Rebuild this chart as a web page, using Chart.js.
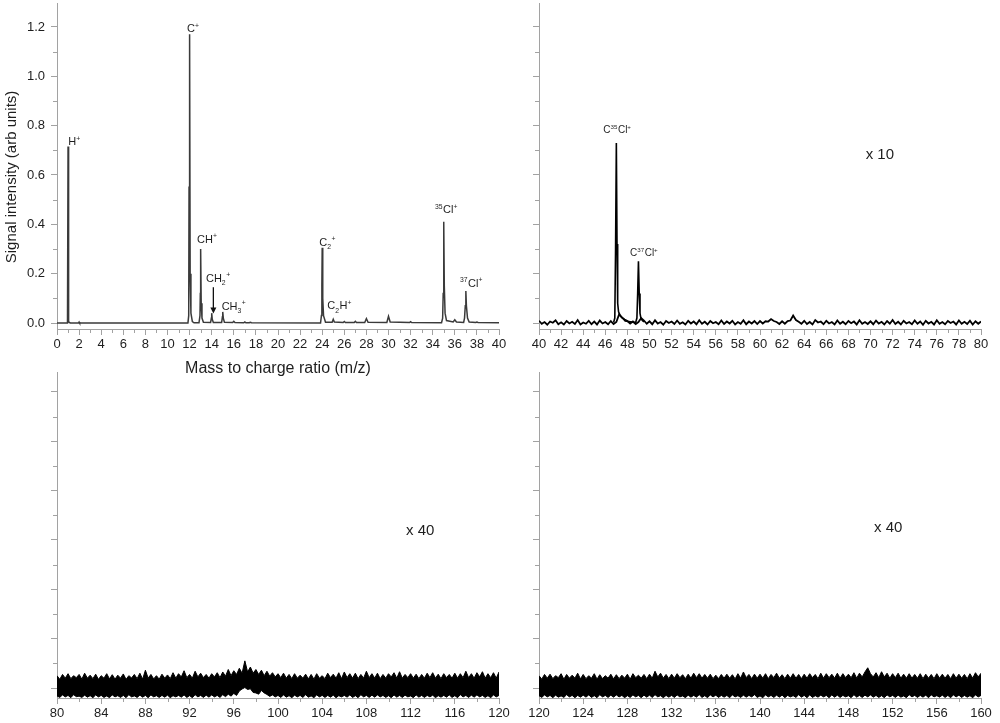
<!DOCTYPE html>
<html><head><meta charset="utf-8">
<script src="https://cdn.jsdelivr.net/npm/chart.js@4.4.0/dist/chart.umd.min.js"></script>
<style>
html,body{margin:0;padding:0;background:#fff;}
#wrap{position:relative;width:1000px;height:723px;overflow:hidden;background:#fff;}
canvas{position:absolute;}
</style></head><body>
<div id="wrap">
<canvas id="tl" width="520" height="385" style="left:0;top:0"></canvas>
<canvas id="tr" width="480" height="360" style="left:520px;top:0"></canvas>
<canvas id="bl" width="520" height="363" style="left:0;top:360px"></canvas>
<canvas id="br" width="480" height="363" style="left:520px;top:360px"></canvas>
</div>
<script>
// ---------- tick labels ----------
const Y_TICKS = [0, 0.2, 0.4, 0.6, 0.8, 1.0, 1.2];
const TL_X_TICKS = [0,2,4,6,8,10,12,14,16,18,20,22,24,26,28,30,32,34,36,38,40];
const TR_X_TICKS = [40,42,44,46,48,50,52,54,56,58,60,62,64,66,68,70,72,74,76,78,80];
const BL_X_TICKS = [80,84,88,92,96,100,104,108,112,116,120];
const BR_X_TICKS = [120,124,128,132,136,140,144,148,152,156,160];

const X_TITLE = 'Mass to charge ratio (m/z)';
const Y_TITLE = 'Signal intensity (arb units)';

// ---------- panel 1: m/z 0-40 ----------
const tlMz = [0,0.95,1.0,1.03,1.07,1.2, 1.95,2.0,2.05,
  11.85,11.92,11.95,12.0,12.05,12.12,12.25,12.4,
  12.85,12.94,12.97,13.0,13.05,13.12,13.25,
  13.9,13.97,14.0,14.05,14.15, 14.9,14.97,15.0,15.05,15.15,
  15.9,16.0,16.1, 16.9,17.0,17.1, 17.4,17.5,17.6,
  23.85,23.93,23.97,24.0,24.05,24.12,24.3, 24.9,25.0,25.1, 25.9,26.0,26.1,
  26.9,27.0,27.1, 27.85,28.0,28.15, 29.85,30.0,30.15, 31.9,32.0,32.1,
  34.8,34.9,34.95,35.0,35.05,35.12,35.25, 35.85,36.0,36.15,
  36.8,36.88,36.95,37.0,37.05,37.15,37.3, 37.9,38.0,38.1, 40];
const tlIntensity = [0,0,0.715,0.072,0.004,0, 0,0.004,0,
  0,0.03,0.55,1.17,0.2,0.04,0.006,0.001,
  0.001,0.03,0.12,0.3,0.08,0.02,0.003,
  0.002,0.02,0.04,0.015,0.002, 0.002,0.025,0.045,0.02,0.003,
  0.002,0.007,0.002, 0.001,0.004,0.001, 0.001,0.003,0.001,
  0.0,0.03,0.15,0.305,0.1,0.03,0.003, 0.003,0.015,0.004, 0.002,0.006,0.002,
  0.002,0.007,0.002, 0.002,0.018,0.003, 0.002,0.027,0.004, 0.002,0.005,0.002,
  0.001,0.02,0.12,0.41,0.15,0.04,0.01, 0.004,0.013,0.004,
  0.002,0.02,0.07,0.13,0.07,0.02,0.004, 0.002,0.004,0.002, 0.001];

// ---------- panel 2: m/z 40-80 (x 10) ----------
const TR_START = 40, TR_STEP = 0.25;
const trNoise = [
  0.009,-0.003,0.004,-0.007,0.006,0.001,0.011,-0.005,0.003,-0.006,0.008,-0.002,0.005,-0.004,0.012,-0.006,0.002,-0.003,0.009,-0.005,
  0.006,-0.006,0.01,-0.002,0.004,-0.005,0.008,-0.004,0.004,0.035,0.022,0.014,0.008,-0.002,0.006,-0.004,0.004,0.02,0.01,-0.003,
  0.007,-0.005,0.011,-0.002,0.004,-0.007,0.008,0.0,0.006,-0.004,0.01,-0.003,0.003,-0.006,0.009,-0.002,0.006,-0.005,0.011,-0.003,
  0.005,-0.006,0.008,-0.001,0.004,-0.005,0.01,-0.004,0.006,-0.002,0.009,-0.006,0.004,-0.003,0.011,-0.005,0.006,-0.002,0.008,-0.004,
  0.008,-0.002,0.007,0.006,0.016,0.008,0.004,-0.004,0.007,-0.003,0.008,0.01,0.03,0.012,0.005,-0.003,0.009,-0.004,0.004,-0.006,
  0.012,0.002,0.006,-0.005,0.009,-0.002,0.004,-0.006,0.01,-0.003,0.005,-0.005,0.008,-0.001,0.006,-0.006,0.011,-0.003,0.004,-0.004,
  0.007,-0.005,0.01,-0.002,0.005,-0.006,0.008,-0.003,0.012,-0.004,0.005,-0.006,0.009,-0.002,0.004,-0.005,0.01,-0.003,0.006,-0.007,
  0.009,-0.002,0.005,-0.006,0.011,-0.003,0.004,-0.005,0.008,0.0,0.006,-0.006,0.01,-0.003,0.005,-0.004,0.009,-0.006,0.007,-0.003,
  0.006];
const trPeakMz = [46.75,46.86,46.93,47.0,47.06,47.12,47.2,47.3,47.45,47.6,47.8, 48.75,48.86,48.93,49.0,49.07,49.14,49.22,49.35,49.5];
const trPeakIntensity = [0.002,0.02,0.3,0.73,0.32,0.08,0.045,0.035,0.025,0.018,0.008, 0.002,0.02,0.12,0.25,0.12,0.04,0.02,0.01,0.004];

// ---------- panel 3: m/z 80-120 (x 40), noise envelope ----------
const BL_START = 80, BL_STEP = 0.25;
const blHigh = [
  .05,.035,.055,.04, .058,.038,.05,.042, .055,.036,.06,.04, .052,.038,.056,.035, .05,.04,.058,.037,
  .054,.036,.052,.04, .057,.035,.05,.041, .055,.038,.06,.036, .072,.04,.055,.037, .05,.036,.056,.04,
  .053,.038,.062,.04, .058,.045,.07,.042, .055,.04,.068,.045, .06,.042,.055,.04, .058,.045,.062,.042,
  .065,.048,.075,.05, .07,.055,.08,.06, .11,.065,.085,.06, .075,.055,.072,.05, .068,.048,.062,.045,
  .058,.042,.06,.04, .055,.038,.058,.04, .052,.04,.056,.037, .055,.036,.058,.04, .05,.038,.06,.042,
  .056,.04,.062,.038, .065,.042,.058,.04, .06,.038,.055,.04, .068,.042,.058,.04, .06,.038,.055,.04,
  .058,.045,.062,.04, .066,.04,.055,.042, .058,.04,.056,.038, .055,.04,.06,.042, .062,.04,.056,.038,
  .058,.042,.055,.04, .06,.04,.058,.042, .068,.042,.058,.04, .062,.045,.066,.04, .058,.042,.062,.04,
  .065];
const blLow = [
  -.032,-.038,-.028,-.036, -.03,-.039,-.027,-.035, -.033,-.038,-.029,-.037, -.031,-.039,-.028,-.036, -.03,-.038,-.032,-.039,
  -.028,-.036,-.031,-.038, -.03,-.039,-.027,-.036, -.032,-.038,-.029,-.037, -.03,-.039,-.028,-.036, -.031,-.038,-.03,-.037,
  -.029,-.039,-.031,-.036, -.03,-.037,-.028,-.038, -.031,-.039,-.027,-.036, -.03,-.038,-.029,-.037, -.028,-.036,-.03,-.038,
  -.027,-.035,-.025,-.033, -.022,-.03,-.012,-.004, .002,-.006,-.003,-.018, -.02,-.025,-.01,-.02, -.026,-.034,-.028,-.036,
  -.03,-.038,-.028,-.037, -.031,-.039,-.029,-.036, -.03,-.038,-.027,-.037, -.032,-.039,-.028,-.036, -.03,-.038,-.03,-.037,
  -.029,-.039,-.031,-.036, -.03,-.037,-.028,-.038, -.031,-.039,-.027,-.036, -.03,-.038,-.029,-.037, -.028,-.036,-.03,-.038,
  -.031,-.039,-.028,-.037, -.03,-.038,-.029,-.036, -.032,-.039,-.028,-.037, -.03,-.038,-.03,-.036, -.029,-.039,-.031,-.037,
  -.03,-.037,-.028,-.038, -.031,-.039,-.027,-.036, -.03,-.038,-.029,-.037, -.028,-.036,-.03,-.038, -.031,-.039,-.028,-.036,
  -.03];

// ---------- panel 4: m/z 120-160 (x 40), noise envelope ----------
const BR_START = 120, BR_STEP = 0.25;
const brHigh = [
  .05,.036,.055,.04, .056,.038,.05,.042, .058,.036,.055,.04, .052,.04,.06,.037, .055,.038,.05,.04,
  .058,.036,.054,.038, .05,.04,.056,.037, .054,.038,.052,.04, .056,.036,.058,.042, .052,.04,.055,.038,
  .056,.04,.068,.045, .06,.04,.055,.038, .056,.04,.058,.042, .054,.038,.056,.04, .06,.042,.058,.04,
  .055,.04,.056,.038, .052,.038,.055,.04, .056,.04,.054,.037, .058,.04,.065,.042, .055,.038,.056,.04,
  .056,.04,.058,.038, .055,.042,.06,.04, .054,.038,.056,.04, .058,.04,.055,.038, .056,.04,.058,.042,
  .055,.038,.06,.04, .058,.042,.056,.04, .06,.04,.058,.042, .056,.042,.062,.04, .06,.045,.065,.082,
  .058,.045,.062,.042, .066,.045,.06,.04, .058,.042,.06,.04, .056,.04,.058,.04, .055,.04,.058,.038,
  .056,.04,.055,.038, .058,.04,.056,.04, .055,.038,.058,.04, .056,.04,.055,.038, .058,.04,.062,.045,
  .06];
const brLow = [
  -.031,-.038,-.028,-.036, -.03,-.039,-.029,-.037, -.032,-.038,-.027,-.036, -.03,-.039,-.03,-.037, -.029,-.037,-.028,-.038,
  -.031,-.039,-.027,-.036, -.03,-.038,-.029,-.037, -.028,-.036,-.03,-.039, -.031,-.038,-.028,-.036, -.03,-.039,-.029,-.037,
  -.029,-.038,-.027,-.036, -.031,-.039,-.03,-.037, -.03,-.038,-.028,-.036, -.032,-.039,-.029,-.037, -.03,-.037,-.027,-.038,
  -.031,-.039,-.028,-.036, -.029,-.038,-.03,-.037, -.03,-.039,-.028,-.036, -.031,-.038,-.029,-.037, -.03,-.036,-.027,-.038,
  -.032,-.039,-.028,-.036, -.03,-.038,-.029,-.037, -.029,-.039,-.03,-.036, -.031,-.038,-.027,-.037, -.03,-.039,-.028,-.038,
  -.031,-.037,-.029,-.036, -.03,-.039,-.028,-.037, -.029,-.038,-.03,-.036, -.031,-.039,-.027,-.037, -.03,-.038,-.029,-.036,
  -.028,-.037,-.03,-.038, -.031,-.039,-.028,-.036, -.03,-.038,-.029,-.037, -.032,-.039,-.027,-.036, -.03,-.038,-.03,-.037,
  -.029,-.039,-.028,-.036, -.031,-.037,-.029,-.038, -.03,-.039,-.028,-.036, -.029,-.038,-.03,-.037, -.031,-.039,-.028,-.036,
  -.03];

// ---------- rendering ----------
const FONT = '"Liberation Sans", Arial, Helvetica, sans-serif';
const AXIS = '#a2a2a2';
const TEXT = '#1e1e1e';

function pts(xs, ys) { return xs.map((x, i) => ({x: x, y: ys[i]})); }
function grid(start, step, ys) { return ys.map((y, i) => ({x: start + i * step, y: y})); }
function mids(a) { return a.slice(1).map((v, i) => (v + a[i]) / 2); }

function drawRich(ctx, x, y, parts, size) {
  let cx = x;
  ctx.textAlign = 'left';
  ctx.textBaseline = 'alphabetic';
  for (const [t, k] of parts) {
    const fs = k === 'n' ? size : size * 0.62;
    ctx.font = fs + 'px ' + FONT;
    const dy = k === 'sup' ? -size * 0.42 : (k === 'sub' ? size * 0.28 : 0);
    ctx.fillText(t, cx, y + dy);
    cx += ctx.measureText(t).width + (k === 'n' ? 0 : 0.5);
  }
}

function panelPlugin(cfg) {
  return {
    id: 'panelDeco',
    afterDraw(chart) {
      const {ctx} = chart;
      const x = chart.scales.x, y = chart.scales.y;
      ctx.save();
      ctx.strokeStyle = AXIS; ctx.lineWidth = 1;
      for (const v of cfg.xMinor) {
        const px = Math.round(x.getPixelForValue(v)) + 0.5;
        ctx.beginPath(); ctx.moveTo(px, x.top); ctx.lineTo(px, x.top + 4); ctx.stroke();
      }
      for (const v of cfg.yMinor) {
        const py = Math.round(y.getPixelForValue(v)) + 0.5;
        ctx.beginPath(); ctx.moveTo(y.right, py); ctx.lineTo(y.right - 4, py); ctx.stroke();
      }
      ctx.fillStyle = TEXT;
      for (const l of cfg.labels) {
        drawRich(ctx, x.getPixelForValue(l.x), y.getPixelForValue(l.y), l.parts, l.size);
      }
      ctx.strokeStyle = '#111'; ctx.fillStyle = '#111'; ctx.lineWidth = 1.3;
      for (const a of (cfg.arrows || [])) {
        const px = x.getPixelForValue(a.x);
        const p0 = y.getPixelForValue(a.from), p1 = y.getPixelForValue(a.to);
        ctx.beginPath(); ctx.moveTo(px, p0); ctx.lineTo(px, p1 - 4); ctx.stroke();
        ctx.beginPath(); ctx.moveTo(px - 3, p1 - 6); ctx.lineTo(px + 3, p1 - 6); ctx.lineTo(px, p1); ctx.closePath(); ctx.fill();
      }
      if (cfg.yTitle) {
        ctx.fillStyle = TEXT;
        ctx.font = '15px ' + FONT;
        ctx.textAlign = 'center'; ctx.textBaseline = 'middle';
        ctx.translate(y.left + 12, y.getPixelForValue(cfg.yTitle.at));
        ctx.rotate(-Math.PI / 2);
        ctx.fillText(cfg.yTitle.text, 0, 0);
      }
      ctx.restore();
    }
  };
}

function makePanel(id, cfg) {
  const zero = s => { s.paddingTop = 0; s.paddingBottom = 0; s.paddingLeft = 0; s.paddingRight = 0; };
  new Chart(document.getElementById(id), {
    type: 'line',
    data: {datasets: cfg.datasets},
    plugins: [panelPlugin(cfg)],
    options: {
      responsive: false, animation: false, devicePixelRatio: 1,
      layout: {padding: {left: 0, right: cfg.padR, top: cfg.padT, bottom: 0}},
      plugins: {legend: {display: false}, tooltip: {enabled: false}},
      elements: {point: {radius: 0, hoverRadius: 0}, line: {tension: 0}},
      scales: {
        x: {
          type: 'linear', min: cfg.xMin, max: cfg.xMax,
          afterBuildTicks: s => { s.ticks = cfg.xTicks.map(v => ({value: v})); },
          afterFit: s => { s.height = cfg.xH; zero(s); },
          grid: {drawOnChartArea: false, drawTicks: true, tickLength: 6, color: AXIS, tickColor: AXIS, lineWidth: 1},
          border: {display: true, color: AXIS, width: 1},
          ticks: {font: {family: FONT, size: 13}, color: TEXT, padding: 2, maxRotation: 0, autoSkip: false,
                  callback: v => String(v)},
          title: cfg.xTitle ? {display: true, text: cfg.xTitle, color: TEXT,
                  font: {family: FONT, size: 16}, padding: {top: 0, bottom: 7}} : {display: false}
        },
        y: {
          type: 'linear', min: cfg.yMin, max: cfg.yMax,
          afterBuildTicks: s => { s.ticks = Y_TICKS.map(v => ({value: v})); },
          afterFit: s => { s.width = cfg.yW; zero(s); },
          grid: {drawOnChartArea: false, drawTicks: true, tickLength: 6, color: AXIS, tickColor: AXIS, lineWidth: 1},
          border: {display: true, color: AXIS, width: 1},
          ticks: {font: {family: FONT, size: 13}, color: TEXT, padding: 6, autoSkip: false,
                  callback: v => cfg.yLabels ? v.toFixed(1) : ''}
        }
      }
    }
  });
}

const TOP_Y = {yMin: -0.0243, yMax: 1.297};
const BOT_Y = {yMin: -0.0405, yMax: 1.281};

makePanel('tl', Object.assign({}, TOP_Y, {
  xMin: 0, xMax: 40, xTicks: TL_X_TICKS, xMinor: mids(TL_X_TICKS), yMinor: mids(Y_TICKS),
  yLabels: true, yW: 57, xH: 56, padR: 21, padT: 3, xTitle: X_TITLE,
  yTitle: {text: Y_TITLE, at: 0.592},
  datasets: [{data: pts(tlMz, tlIntensity), borderColor: '#3a3a3a', borderWidth: 1.5, fill: false}],
  labels: [
    {x: 1.02, y: 0.72, size: 11, parts: [['H','n'],['+','sup']]},
    {x: 11.76, y: 1.178, size: 11, parts: [['C','n'],['+','sup']]},
    {x: 12.67, y: 0.325, size: 11, parts: [['CH','n'],['+','sup']]},
    {x: 13.48, y: 0.167, size: 11, parts: [['CH','n'],['2','sub'],['+','sup']]},
    {x: 14.9, y: 0.053, size: 11, parts: [['CH','n'],['3','sub'],['+','sup']]},
    {x: 23.74, y: 0.312, size: 11, parts: [['C','n'],['2','sub'],['+','sup']]},
    {x: 24.46, y: 0.055, size: 11, parts: [['C','n'],['2','sub'],['H','n'],['+','sup']]},
    {x: 34.2, y: 0.445, size: 11, parts: [['35','sup'],['Cl','n'],['+','sup']]},
    {x: 36.47, y: 0.147, size: 11, parts: [['37','sup'],['Cl','n'],['+','sup']]}
  ],
  arrows: [{x: 14.15, from: 0.145, to: 0.039}]
}));

makePanel('tr', Object.assign({}, TOP_Y, {
  xMin: 40, xMax: 80, xTicks: TR_X_TICKS, xMinor: mids(TR_X_TICKS), yMinor: mids(Y_TICKS),
  yLabels: false, yW: 19, xH: 31, padR: 19, padT: 3,
  datasets: [
    {data: grid(TR_START, TR_STEP, trNoise), borderColor: '#000', borderWidth: 1.8, fill: false},
    {data: pts(trPeakMz, trPeakIntensity), borderColor: '#000', borderWidth: 1.6, fill: false}
  ],
  labels: [
    {x: 45.82, y: 0.771, size: 10, parts: [['C','n'],['35','sup'],['Cl','n'],['+','sup']]},
    {x: 48.24, y: 0.272, size: 10, parts: [['C','n'],['37','sup'],['Cl','n'],['+','sup']]},
    {x: 69.56, y: 0.663, size: 15, parts: [['x 10','n']]}
  ]
}));

makePanel('bl', Object.assign({}, BOT_Y, {
  xMin: 80, xMax: 120, xTicks: BL_X_TICKS, xMinor: mids(BL_X_TICKS), yMinor: mids(Y_TICKS),
  yLabels: false, yW: 57, xH: 25, padR: 21, padT: 12,
  datasets: [
    {data: grid(BL_START, BL_STEP, blLow), borderColor: '#000', borderWidth: 1, fill: false},
    {data: grid(BL_START, BL_STEP, blHigh), borderColor: '#000', borderWidth: 1, fill: '-1', backgroundColor: '#000'}
  ],
  labels: [{x: 111.58, y: 0.62, size: 15, parts: [['x 40','n']]}]
}));

makePanel('br', Object.assign({}, BOT_Y, {
  xMin: 120, xMax: 160, xTicks: BR_X_TICKS, xMinor: mids(BR_X_TICKS), yMinor: mids(Y_TICKS),
  yLabels: false, yW: 19, xH: 25, padR: 19, padT: 12,
  datasets: [
    {data: grid(BR_START, BR_STEP, brLow), borderColor: '#000', borderWidth: 1, fill: false},
    {data: grid(BR_START, BR_STEP, brHigh), borderColor: '#000', borderWidth: 1, fill: '-1', backgroundColor: '#000'}
  ],
  labels: [{x: 150.32, y: 0.634, size: 15, parts: [['x 40','n']]}]
}));
</script>
</body></html>
